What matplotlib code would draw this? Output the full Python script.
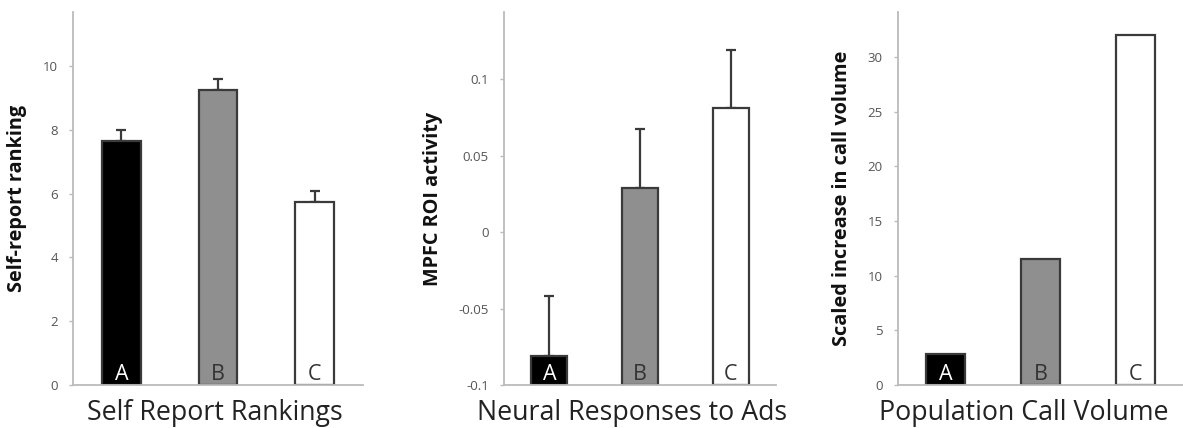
import matplotlib
matplotlib.use("Agg")
import matplotlib.pyplot as plt
import numpy as np

plt.rcParams['font.family'] = ['Open Sans', 'DejaVu Sans']

categories = ["A", "B", "C"]
bar_colors = ["#000000", "#8f8f8f", "#ffffff"]
label_colors = ["#ffffff", "#333333", "#333333"]

self_report = [7.65, 9.25, 5.75]
self_report_err = [0.35, 0.35, 0.34]
self_ticks = [0, 2, 4, 6, 8, 10]

mpfc = [-0.081, 0.0286, 0.0812]
mpfc_err = [0.039, 0.039, 0.0378]
mpfc_ticks = [-0.1, -0.05, 0, 0.05, 0.1]
mpfc_ticklabels = ["-0.1", "-0.05", "0", "0.05", "0.1"]

call_volume = [2.83, 11.5, 32.0]
call_ticks = [0, 5, 10, 15, 20, 25, 30]

fig = plt.figure(figsize=(11.83, 4.28), dpi=100)
H = 428
W = 1183

panels = [
    dict(rect=[73, 12, 363, 385], vals=self_report, err=self_report_err, ylim=(0, 11.7),
         ticks=self_ticks, ticklabels=[str(t) for t in self_ticks], xl=0.488,
         ylabel="Self-report ranking", xlabel="Self Report Rankings", width=0.40, bottom=0),
    dict(rect=[504, 12, 776, 385], vals=mpfc, err=mpfc_err, ylim=(-0.1, 0.144),
         ticks=mpfc_ticks, ticklabels=mpfc_ticklabels, xl=0.47,
         ylabel="MPFC ROI activity", xlabel="Neural Responses to Ads", width=0.40, bottom=-0.1),
    dict(rect=[898, 12, 1183, 385], vals=call_volume, err=None, ylim=(0, 34.1),
         ticks=call_ticks, ticklabels=[str(t) for t in call_ticks], xl=0.44,
         ylabel="Scaled increase in call volume", xlabel="Population Call Volume", width=0.42, bottom=0),
]

for p in panels:
    l, t, r, b = p["rect"]
    ax = fig.add_axes([l / W, (H - b) / H, (r - l) / W, (b - t) / H])
    x = np.arange(len(categories))
    vals = np.array(p["vals"])
    heights = vals - p["bottom"]
    ax.bar(x, heights, bottom=p["bottom"], width=p["width"], color=bar_colors,
           edgecolor="#3a3a3a", linewidth=1.6, zorder=2)
    if p["err"] is not None:
        ax.errorbar(x, vals, yerr=[np.zeros(len(vals)), p["err"]], fmt="none",
                    ecolor="#3a3a3a", elinewidth=1.6, capsize=3.5, capthick=1.6, zorder=1)
    for xi, c, lc in zip(x, categories, label_colors):
        ax.text(xi, p["bottom"], c, ha="center", va="bottom", fontsize=15.5,
                color=lc, zorder=3)
    ax.set_xlim(-0.5, 2.5)
    ax.set_ylim(*p["ylim"])
    ax.set_yticks(p["ticks"])
    ax.set_yticklabels(p["ticklabels"], fontsize=9.5, color="#555555")
    ax.set_xticks([])
    for s in ["top", "right"]:
        ax.spines[s].set_visible(False)
    for s in ["left", "bottom"]:
        ax.spines[s].set_color("#bbbbbb")
        ax.spines[s].set_linewidth(1.3)
    ax.tick_params(axis="y", length=3, color="#bbbbbb", width=1.0, pad=8)
    ax.set_ylabel(p["ylabel"], fontsize=14.3, fontweight="bold", color="#111111", labelpad=11)
    ax.set_xlabel(p["xlabel"], fontsize=19.3, color="#222222")
    ax.xaxis.set_label_coords(p["xl"], -0.038, transform=ax.transAxes)
    ax.xaxis.label.set_va("top")

fig.savefig("out.png", dpi=100)
